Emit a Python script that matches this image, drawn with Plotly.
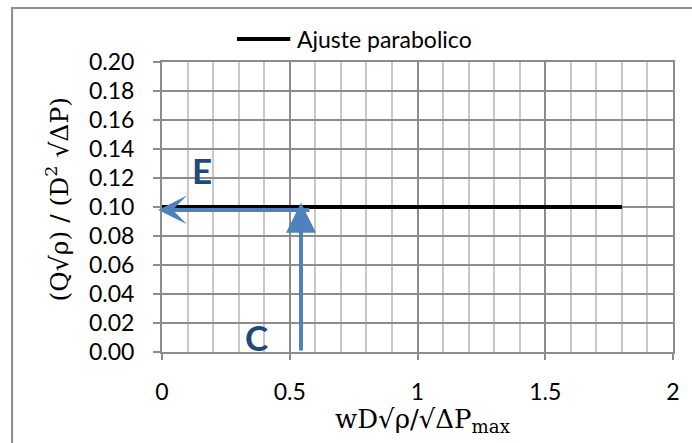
import plotly.graph_objects as go

# Fitted curve (parabolic fit, flat over this range)
fit_x = [0.0, 1.8]
fit_y = [0.10, 0.10]

# Operating point read-off: C on the x axis, E on the y axis
point_c_x = 0.544
point_e_y = 0.098
arrow_up_tip_y = 0.103
arrow_left_tip_x = -0.015
arrow_left_tail_x = 0.583

series_name = "Ajuste parabolico"
x_title = "wD√ρ/√ΔP<sub>max</sub>"
y_title = "(Q√ρ) / (D<sup>2</sup> √ΔP)"

blue = "#4F81BD"
dark_blue = "#1F497D"
grid_dark = "#8C8C8C"
grid_light = "#C8C8C8"

fig = go.Figure()
fig.add_trace(go.Scatter(
    x=fit_x, y=fit_y, mode="lines", name=series_name,
    line=dict(color="black", width=4), showlegend=False,
))

tick_font = dict(family="Lato, Carlito, sans-serif", size=23, color="black")
title_font = dict(family="DejaVu Serif, Liberation Serif, serif", size=25, color="black")
xtitle_font = dict(family="DejaVu Serif, Liberation Serif, serif", size=26, color="black")

fig.update_layout(
    width=692, height=443,
    margin=dict(l=162, r=12, t=62, b=91),
    paper_bgcolor="white", plot_bgcolor="white",
    xaxis=dict(
        range=[0, 2],
        tickvals=[0, 0.5, 1, 1.5, 2], ticktext=["0", "0.5", "1", "1.5", "2"],
        showgrid=True, gridcolor=grid_dark, gridwidth=2,
        minor=dict(dtick=0.1, tick0=0, showgrid=True, gridcolor=grid_light, gridwidth=2),
        ticks="outside", ticklen=6, tickwidth=2, tickcolor=grid_dark,
        showline=True, linecolor=grid_dark, linewidth=2, mirror=True,
        zeroline=False, tickfont=tick_font, ticklabelstandoff=12,
    ),
    yaxis=dict(
        range=[0, 0.2], dtick=0.02, tick0=0, tickformat=".2f",
        showgrid=True, gridcolor=grid_dark, gridwidth=2,
        ticks="outside", ticklen=7, tickwidth=2, tickcolor=grid_dark,
        showline=True, linecolor=grid_dark, linewidth=2, mirror=True,
        zeroline=False, tickfont=tick_font, ticklabelstandoff=14,
    ),
)

# Outer chart frame
fig.add_shape(type="rect", xref="paper", yref="paper",
              x0=-0.2934, x1=1.06, y0=-0.40, y1=1.1862,
              line=dict(color="#8C8C8C", width=2), fillcolor="rgba(0,0,0,0)")

# Legend drawn as a line sample plus label
fig.add_shape(type="line", xref="paper", yref="paper",
              x0=0.1467, x1=0.251, y0=1.0793, y1=1.0793,
              line=dict(color="black", width=4))
fig.add_annotation(xref="paper", yref="paper", x=0.2606, y=1.0793,
                   xanchor="left", yanchor="middle", showarrow=False,
                   text=series_name, font=tick_font)

# Axis titles
fig.add_annotation(xref="paper", yref="paper", x=(427 - 162) / 518, y=(352 - 420) / 290,
                   xanchor="center", yanchor="middle", showarrow=False,
                   text=x_title, font=xtitle_font)
fig.add_annotation(xref="paper", yref="paper", x=(57 - 162) / 518, y=(352 - 199) / 290,
                   xanchor="center", yanchor="middle", showarrow=False, textangle=-90,
                   text=y_title, font=title_font)

# Read-off arrows
fig.add_annotation(x=point_c_x, y=arrow_up_tip_y, ax=point_c_x, ay=0,
                   xref="x", yref="y", axref="x", ayref="y", text="",
                   showarrow=True, arrowhead=2, arrowwidth=4, arrowsize=1.5,
                   arrowcolor=blue)
fig.add_annotation(x=arrow_left_tip_x, y=point_e_y, ax=arrow_left_tail_x, ay=point_e_y,
                   xref="x", yref="y", axref="x", ayref="y", text="",
                   showarrow=True, arrowhead=3, arrowwidth=4, arrowsize=1.2,
                   arrowcolor=blue)

# Point labels
label_font = dict(family="Lato, Carlito, sans-serif", size=35, color=dark_blue)
fig.add_annotation(x=0.158, y=0.1255, text="<b>E</b>", showarrow=False,
                   xanchor="center", yanchor="middle", font=label_font)
fig.add_annotation(x=0.371, y=0.0103, text="<b>C</b>", showarrow=False,
                   xanchor="center", yanchor="middle", font=label_font)

fig.write_html("out.html")
